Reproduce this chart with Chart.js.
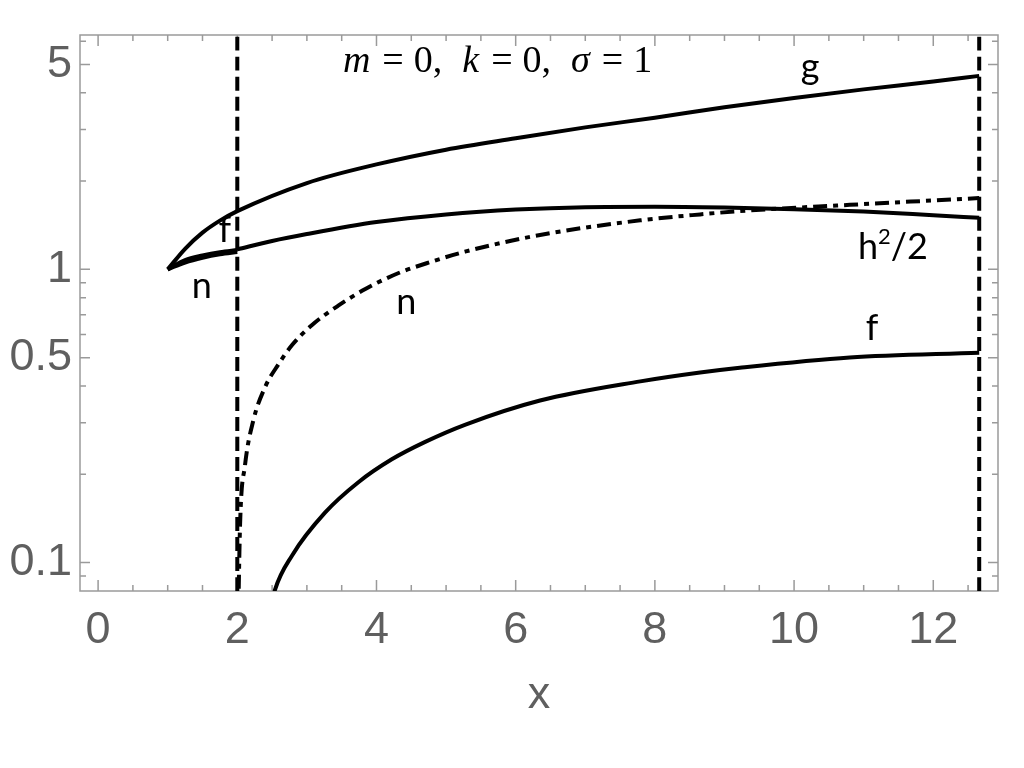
<!DOCTYPE html>
<html>
<head>
<meta charset="utf-8">
<script src="https://cdn.jsdelivr.net/npm/chart.js@4.4.1/dist/chart.umd.min.js"></script>
<style>
  body { margin: 0; background: #fff; }
  canvas { display: block; }
</style>
</head>
<body>
<canvas id="myChart" width="1024" height="768"></canvas>
<script>
  // curves (log y)
  var gX = [1, 1.25, 1.5, 1.75, 2, 3, 4, 5, 6, 7, 8, 9, 10, 11, 12, 12.66];
  var gY = [1, 1.175, 1.334, 1.466, 1.58, 1.97, 2.28, 2.56, 2.80, 3.05, 3.29, 3.57, 3.84, 4.11, 4.37, 4.57];
  var fInX = [1, 1.25, 1.5, 1.75, 2];
  var fInY = [1, 1.075, 1.115, 1.145, 1.165];
  var nInX = [1, 1.25, 1.5, 1.75, 2];
  var nInY = [1, 1.055, 1.095, 1.125, 1.145];
  var hX = [2, 2.5, 3, 4, 5, 6, 7, 8, 9, 10, 11, 12, 12.66];
  var hY = [1.17, 1.25, 1.32, 1.45, 1.54, 1.60, 1.63, 1.635, 1.625, 1.605, 1.575, 1.53, 1.50];
  var nX = [2.005, 2.04, 2.11, 2.23, 2.4, 2.59, 2.79, 3.07, 3.45, 3.84, 4.31, 4.8, 5.27, 6.35, 7.79, 8.65, 9.22, 10.8, 12.66];
  var nY = [0.05, 0.135, 0.214, 0.305, 0.397, 0.474, 0.553, 0.645, 0.752, 0.857, 0.97, 1.064, 1.149, 1.31, 1.47, 1.54, 1.58, 1.66, 1.75];
  var fX = [2.42, 2.54, 2.79, 3.26, 3.74, 4.22, 4.7, 5.27, 6.35, 7.79, 8.65, 9.22, 10.8, 12.66];
  var fY = [0.06, 0.0805, 0.106, 0.148, 0.188, 0.225, 0.258, 0.295, 0.357, 0.415, 0.445, 0.462, 0.501, 0.520];
  var wallX = [2, 12.66];
  var wallY = [0.05, 10];

  var xTicks = [0, 2, 4, 6, 8, 10, 12];
  var xMinor = [0.5, 1, 1.5, 2.5, 3, 3.5, 4.5, 5, 5.5, 6.5, 7, 7.5, 8.5, 9, 9.5, 10.5, 11, 11.5, 12.5];
  var yTicks = [0.1, 0.5, 1, 5];
  var yMinor = [0.09, 0.2, 0.3, 0.4, 0.6, 0.7, 0.8, 0.9, 2, 3, 4, 6];

  // curve names; [text, superscript] pieces
  var labelText = [[['g']], [['h'], ['2', 1], ['/2']], [['n']], [['f']], [['f']], [['n']]];
  var labelX = [10.23, 11.42, 4.43, 11.12, 1.82, 1.49];
  var labelY = [4.89, 1.19, 0.77, 0.63, 1.36, 0.877];

  var axisGray = '#5f5f5f';
  var frameGray = '#9a9a9a';
  var tickFont = { family: '"Liberation Sans Narrow", "Liberation Sans"', size: 45 };

  function pts(xs, ys) {
    return xs.map(function (x, i) { return { x: x, y: ys[i] }; });
  }

  function curve(xs, ys, dash) {
    return {
      data: pts(xs, ys),
      borderColor: '#000',
      borderWidth: 4,
      borderDash: dash || [],
      pointRadius: 0,
      cubicInterpolationMode: 'monotone',
      clip: 0
    };
  }

  var frameTicks = {
    id: 'frameTicks',
    beforeDatasetsDraw: function (chart) {
      var ctx = chart.ctx, a = chart.chartArea;
      var xs = chart.scales.x, ys = chart.scales.y;
      ctx.save();
      ctx.strokeStyle = frameGray;
      ctx.lineWidth = 1.5;
      ctx.strokeRect(a.left, a.top, a.right - a.left, a.bottom - a.top);
      ctx.beginPath();
      function tx(v, len) {
        var p = xs.getPixelForValue(v);
        ctx.moveTo(p, a.bottom); ctx.lineTo(p, a.bottom - len);
        ctx.moveTo(p, a.top); ctx.lineTo(p, a.top + len);
      }
      function ty(v, len) {
        var p = ys.getPixelForValue(v);
        ctx.moveTo(a.left, p); ctx.lineTo(a.left + len, p);
        ctx.moveTo(a.right, p); ctx.lineTo(a.right - len, p);
      }
      xTicks.forEach(function (v) { tx(v, 11); });
      xMinor.forEach(function (v) { tx(v, 6); });
      yTicks.forEach(function (v) { ty(v, 10); });
      yMinor.forEach(function (v) { ty(v, 6); });
      ctx.stroke();
      ctx.restore();
    },
    afterDatasetsDraw: function (chart) {
      var ctx = chart.ctx;
      var xs = chart.scales.x, ys = chart.scales.y;
      ctx.save();
      ctx.fillStyle = '#000';
      ctx.textBaseline = 'middle';
      ctx.textAlign = 'left';
      labelText.forEach(function (parts, i) {
        var w = 0;
        parts.forEach(function (p) {
          ctx.font = (p[1] ? 22 : 36) + 'px Lato';
          w += ctx.measureText(p[0]).width;
        });
        var px = xs.getPixelForValue(labelX[i]) - w / 2;
        var py = ys.getPixelForValue(labelY[i]);
        parts.forEach(function (p) {
          ctx.font = (p[1] ? 22 : 36) + 'px Lato';
          ctx.fillText(p[0], px, p[1] ? py - 10 : py);
          px += ctx.measureText(p[0]).width;
        });
      });

      // m = 0, k = 0, sigma = 1
      var segs = [['m', 1, 12], ['=', 0, 10], ['0,', 0, 20], ['k', 1, 12], ['=', 0, 10], ['0,', 0, 20],
                  ['\u03c3', 1, 12], ['=', 0, 10], ['1', 0, 0]];
      var total = 0;
      segs.forEach(function (s) {
        ctx.font = (s[1] ? 'italic ' : '') + '38px "Liberation Serif"';
        s.push(ctx.measureText(s[0]).width);
        total += s[3] + s[2];
      });
      var cx = xs.getPixelForValue(5.74) - total / 2;
      var cy = ys.getPixelForValue(5.08);
      segs.forEach(function (s) {
        ctx.font = (s[1] ? 'italic ' : '') + '38px "Liberation Serif"';
        ctx.fillText(s[0], cx, cy);
        cx += s[3] + s[2];
      });
      ctx.restore();
    }
  };

  var config = {
    type: 'line',
    data: {
      datasets: [
        curve(gX, gY),
        curve(fInX, fInY),
        curve(nInX, nInY),
        curve(hX, hY),
        curve(nX, nY, [14, 6, 5, 6]),
        curve(fX, fY),
        curve([wallX[0], wallX[0]], wallY, [14, 6]),
        curve([wallX[1], wallX[1]], wallY, [14, 6])
      ]
    },
    options: {
      responsive: false,
      animation: false,
      layout: { padding: { top: 24, right: 26, left: 0, bottom: 0 } },
      plugins: { legend: { display: false }, tooltip: { enabled: false } },
      scales: {
        x: {
          type: 'linear',
          min: -0.26,
          max: 12.93,
          grid: { display: false, drawTicks: false },
          border: { display: false },
          ticks: {
            color: axisGray,
            font: tickFont,
            padding: 13,
            autoSkip: false,
            maxRotation: 0,
            callback: function (v) { return String(v); }
          },
          afterBuildTicks: function (s) { s.ticks = xTicks.map(function (v) { return { value: v }; }); },
          title: {
            display: true,
            text: 'x',
            color: axisGray,
            font: tickFont,
            padding: { top: 0, bottom: 45 }
          },
          afterFit: function (s) { s.height = 177; }
        },
        y: {
          type: 'logarithmic',
          min: 0.08,
          max: 6.3,
          grid: { display: false, drawTicks: false },
          border: { display: false },
          ticks: {
            color: axisGray,
            font: tickFont,
            padding: 8,
            autoSkip: false,
            callback: function (v) { return String(v); }
          },
          afterBuildTicks: function (s) { s.ticks = yTicks.map(function (v) { return { value: v }; }); },
          afterFit: function (s) { s.width = 80; }
        }
      }
    },
    plugins: [frameTicks]
  };

  var myChart = new Chart(document.getElementById('myChart'), config);
</script>
</body>
</html>
